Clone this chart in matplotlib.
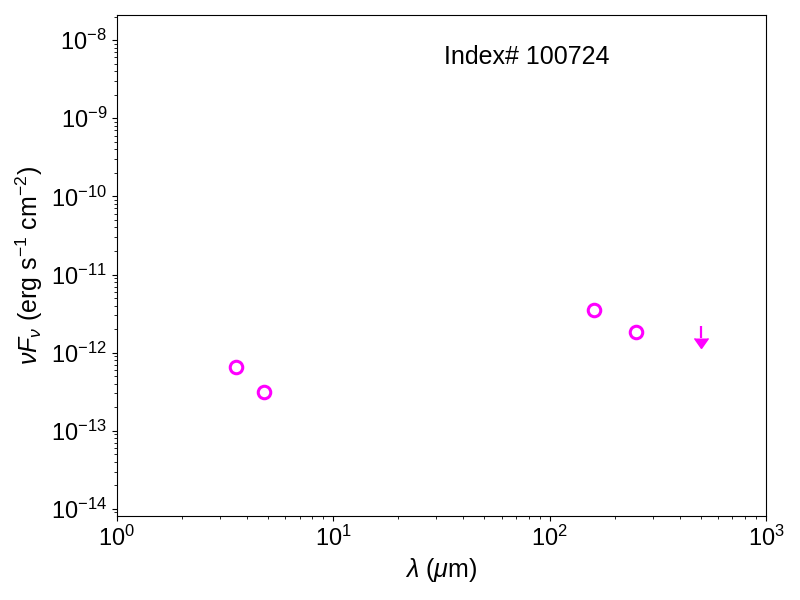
import numpy as np
import matplotlib
matplotlib.use("Agg")
import matplotlib.pyplot as plt

plt.rcParams['font.family'] = ['Liberation Sans', 'DejaVu Sans']
plt.rcParams['mathtext.fontset'] = 'custom'
plt.rcParams['mathtext.rm'] = 'Liberation Sans'
plt.rcParams['mathtext.it'] = 'Liberation Sans:italic'
plt.rcParams['mathtext.bf'] = 'Liberation Sans:bold'

# detections (micron, erg s^-1 cm^-2)
wave = [3.55, 4.8, 160.0, 250.0]
flux = [6.5e-13, 3.1e-13, 3.5e-12, 1.85e-12]
# upper limit
ul_wave = [500.0]
ul_flux = [2.2e-12]
label = "Index# 100724"

fig, ax = plt.subplots(figsize=(8, 6), dpi=100)
fig.subplots_adjust(left=0.146, right=0.9575, bottom=0.14, top=0.975)

ax.plot(wave, flux, 'o', mfc='none', mec='magenta', ms=9, mew=2.2, ls='none')
eb = ax.errorbar(ul_wave, ul_flux, yerr=[np.array(ul_flux) * 0.30], uplims=True,
                 fmt='none', ecolor='magenta', elinewidth=1.6, capsize=0)
for cap in eb[1]:
    cap.set_color('magenta')
    cap.set_markersize(10)

ax.set_xscale('log')
ax.set_yscale('log')
ax.set_xlim(1, 1000)
ax.set_ylim(8.1e-15, 2.1e-8)
ax.set_xlabel(r'$\lambda$ ($\mu$m)', fontsize=18)
ax.set_ylabel(r'$\nu F_\nu$ (erg s$^{-1}$ cm$^{-2}$)', fontsize=18)
ax.tick_params(axis='both', which='major', labelsize=17)
ax.text(0.632, 0.916, label, transform=ax.transAxes, fontsize=18,
        ha='center', va='center')

fig.savefig('out.png')
